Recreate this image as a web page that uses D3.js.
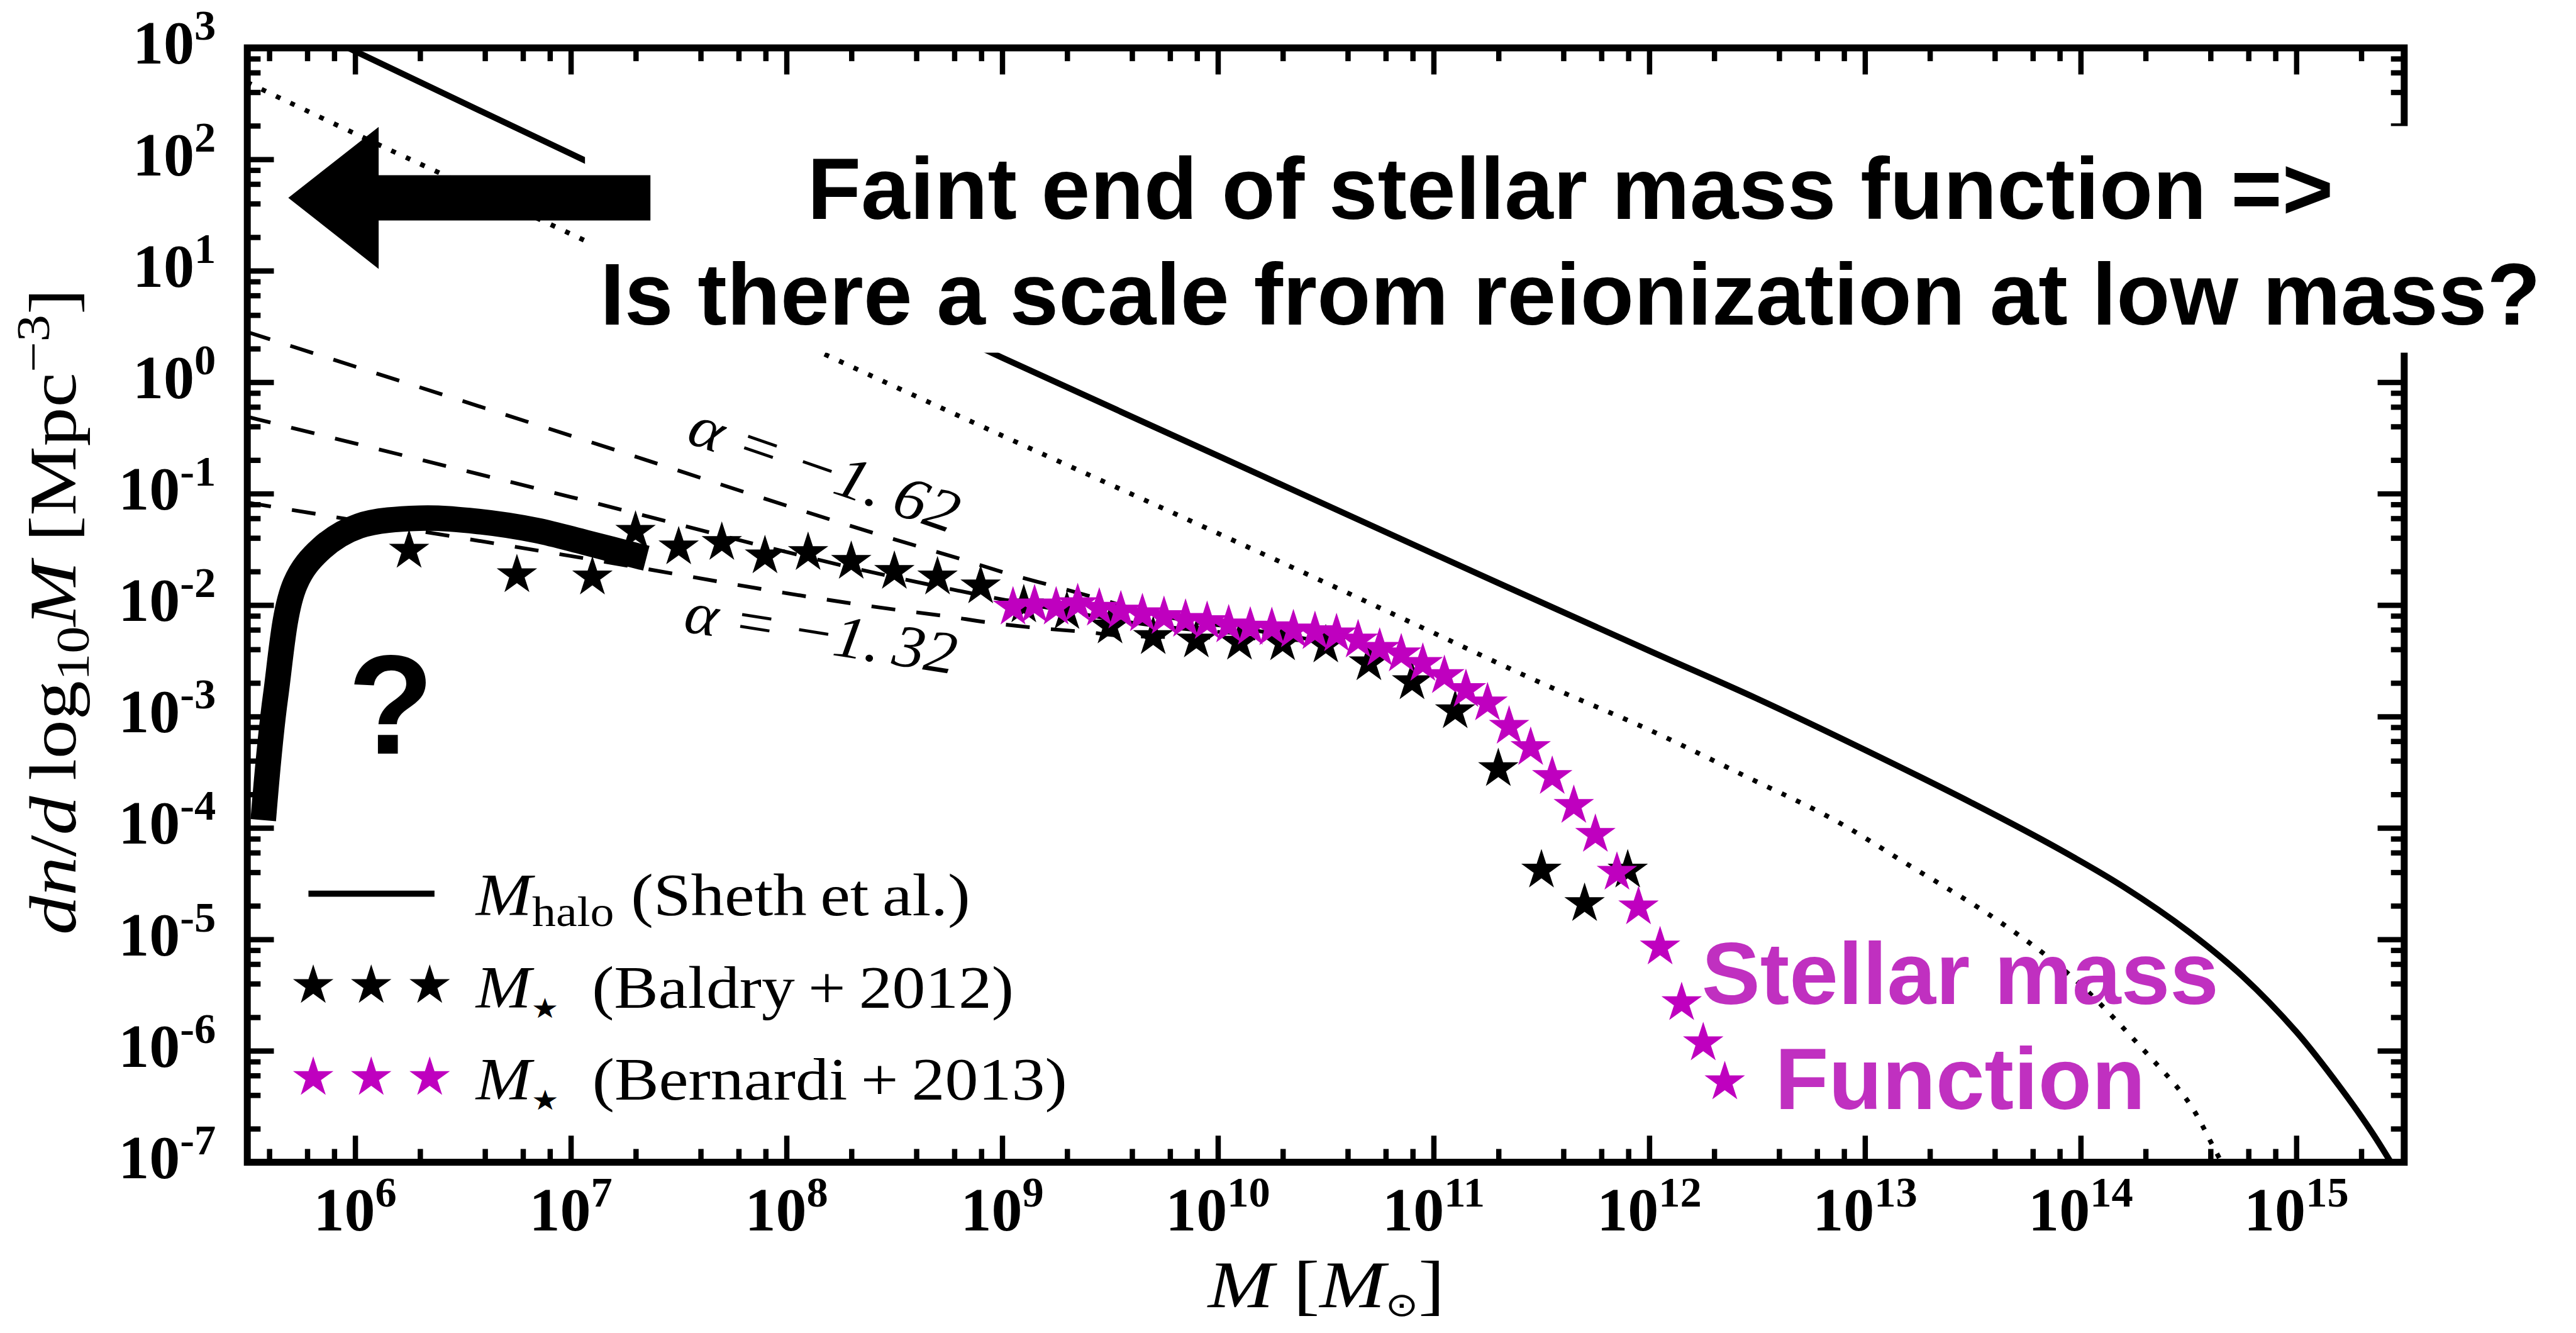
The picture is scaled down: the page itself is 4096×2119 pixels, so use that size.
<!DOCTYPE html>
<html>
<head>
<meta charset="utf-8">
<title>Halo and stellar mass functions</title>
<script src="https://cdn.jsdelivr.net/npm/d3@7/dist/d3.min.js"></script>
<style>
  html, body { margin: 0; padding: 0; background: #fff; overflow: hidden; }
  svg { display: block; }
</style>
</head>
<body>
<svg id="chart"></svg>
<script>
// Values are log10: mass in solar masses, number density dn/dlog10M in Mpc^-3.

// Halo mass function (Sheth et al.), solid curve
const haloLogM = [5.5, 6.0, 7.0, 8.0, 9.0, 10.0, 11.0, 12.0, 12.5, 13.0, 13.5, 13.9, 14.2, 14.5, 14.75, 15.0, 15.2, 15.35, 15.5];
const haloLogN = [3.45, 2.97, 2.05, 1.13, 0.22, -0.66, -1.54, -2.41, -2.84, -3.30, -3.78, -4.19, -4.53, -4.93, -5.33, -5.83, -6.32, -6.73, -7.20];

// Dotted companion curve
const dottedLogM = [5.5, 6.0, 7.0, 8.0, 9.0, 9.8, 10.5, 11.0, 11.5, 12.0, 12.45, 12.85, 13.2, 13.6, 13.95, 14.3, 14.5, 14.62, 14.68];
const dottedLogN = [2.69, 2.23, 1.33, 0.41, -0.48, -1.18, -1.80, -2.25, -2.70, -3.12, -3.54, -3.92, -4.33, -4.81, -5.32, -6.01, -6.46, -6.88, -7.10];

// Schechter-type fits with different faint-end slopes (dashed)
const fitSteepLogM = [5.5, 7.0, 8.5, 8.83, 9.04, 9.25, 9.46, 9.66, 9.87, 10.09, 10.29, 10.5];   // alpha = -1.62
const fitSteepLogN = [0.45, -0.48, -1.41, -1.60, -1.726, -1.836, -1.95, -2.06, -2.146, -2.203, -2.265, -2.33];
const fitMidLogM = [5.5, 7.0, 8.5, 9.12, 9.33, 9.53, 9.75, 9.97, 10.18, 10.5];
const fitMidLogN = [-0.31, -1.03, -1.75, -1.993, -2.065, -2.136, -2.194, -2.236, -2.266, -2.33];
const fitShallowLogM = [5.5, 7.0, 8.5, 8.74, 8.95, 9.17, 9.39, 9.55, 9.86, 10.2, 10.5];    // alpha = -1.32
const fitShallowLogN = [-1.08, -1.56, -2.04, -2.10, -2.16, -2.207, -2.242, -2.275, -2.289, -2.30, -2.33];

// Stellar mass function, Baldry et al. 2012 (black stars)
const baldryLogM = [6.25, 6.75, 7.1, 7.3, 7.5, 7.7, 7.9, 8.1, 8.3, 8.5, 8.7, 8.9, 9.1, 9.3, 9.5, 9.7, 9.9, 10.1, 10.3, 10.5, 10.7, 10.9, 11.1, 11.3, 11.5, 11.7, 11.9];
const baldryLogPhi = [-1.51, -1.73, -1.75, -1.34, -1.48, -1.44, -1.56, -1.53, -1.61, -1.70, -1.75, -1.83, -2.00, -2.06, -2.19, -2.285, -2.315, -2.335, -2.34, -2.36, -2.52, -2.69, -2.95, -3.47, -4.38, -4.68, -4.38];

// Stellar mass function, Bernardi et al. 2013 (magenta stars)
const bernardiLogM = [9.05, 9.15, 9.25, 9.35, 9.45, 9.55, 9.65, 9.75, 9.85, 9.95, 10.05, 10.15, 10.25, 10.35, 10.45, 10.55, 10.65, 10.75, 10.85, 10.95, 11.05, 11.15, 11.25, 11.35, 11.45, 11.55, 11.65, 11.75, 11.85, 11.95, 12.05, 12.15, 12.25, 12.35];
const bernardiLogPhi = [-2.02, -2.00, -2.02, -1.99, -2.03, -2.055, -2.08, -2.105, -2.13, -2.15, -2.18, -2.20, -2.205, -2.225, -2.24, -2.26, -2.315, -2.39, -2.44, -2.525, -2.635, -2.76, -2.88, -3.09, -3.28, -3.54, -3.80, -4.06, -4.40, -4.71, -5.07, -5.57, -5.93, -6.28];

// Possible low-mass turnover (thick curve)
const turnoverLogM = [5.574, 5.631, 5.722, 5.845, 6.018, 6.30, 6.57, 6.84, 7.07, 7.35];
const turnoverLogN = [-3.93, -2.82, -1.81, -1.49, -1.29, -1.22, -1.25, -1.33, -1.44, -1.58];

// Axis ticks
const xTickExponents = [6, 7, 8, 9, 10, 11, 12, 13, 14, 15];
const yTickExponents = [3, 2, 1, 0, -1, -2, -3, -4, -5, -6, -7];
const minorMultipliers = [2, 4, 6, 8];

// Legend entries
const legendLabels = ["Sheth\u2009et\u2009al.", "Baldry\u2009+\u20092012", "Bernardi\u2009+\u20092013"];

// ---------------------------------------------------------------------------
const W = 4844, H = 2506;
const box = { left: 465, right: 4521, top: 90, bottom: 2185 };
const MAGENTA = "#bf00bf";
const SERIF = "'Liberation Serif', 'Times New Roman', serif";
const SANS = "'Liberation Sans', Arial, Helvetica, sans-serif";

const svg = d3.select("#chart")
  .attr("width", 4096).attr("height", 2119)
  .attr("viewBox", `0 0 ${W} ${H}`);
svg.append("rect").attr("width", W).attr("height", H).attr("fill", "#fff");

const x = d3.scaleLog().domain([Math.pow(10, 5.5), Math.pow(10, 15.5)]).range([box.left, box.right]);
const y = d3.scaleLog().domain([1e-7, 1e3]).range([box.bottom, box.top]);
const px = lm => x(Math.pow(10, lm));
const py = ln => y(Math.pow(10, ln));
const zip = (a, b) => a.map((v, i) => [v, b[i]]);

svg.append("defs").append("clipPath").attr("id", "plot-area")
  .append("rect")
  .attr("x", box.left).attr("y", box.top)
  .attr("width", box.right - box.left).attr("height", box.bottom - box.top);

const plot = svg.append("g").attr("clip-path", "url(#plot-area)");

const smooth = d3.line().x(d => px(d[0])).y(d => py(d[1])).curve(d3.curveMonotoneX);
const rounded = d3.line().x(d => px(d[0])).y(d => py(d[1])).curve(d3.curveCatmullRom.alpha(0.5));

// dotted curve
plot.append("path").attr("d", rounded(zip(dottedLogM, dottedLogN)))
  .attr("fill", "none").attr("stroke", "#000").attr("stroke-width", 9)
  .attr("stroke-dasharray", "9,21");

// halo mass function
plot.append("path").attr("d", rounded(zip(haloLogM, haloLogN)))
  .attr("fill", "none").attr("stroke", "#000").attr("stroke-width", 11.5);

// dashed fits
[[fitSteepLogM, fitSteepLogN], [fitMidLogM, fitMidLogN], [fitShallowLogM, fitShallowLogN]].forEach(([m, n]) => {
  plot.append("path").attr("d", smooth(zip(m, n)))
    .attr("fill", "none").attr("stroke", "#000").attr("stroke-width", 7)
    .attr("stroke-dasharray", "45,40");
});

// thick turnover curve
plot.append("path").attr("d", rounded(zip(turnoverLogM, turnoverLogN)))
  .attr("fill", "none").attr("stroke", "#000").attr("stroke-width", 48)
  .attr("stroke-linecap", "butt").attr("stroke-linejoin", "round");

// five-pointed star marker
function starPath(R) {
  const pts = [];
  for (let i = 0; i < 10; i++) {
    const r = i % 2 ? R * 0.381966 : R;
    const a = -Math.PI / 2 + i * Math.PI / 5;
    pts.push([r * Math.cos(a), r * Math.sin(a)]);
  }
  return "M" + pts.map(p => p[0].toFixed(2) + "," + p[1].toFixed(2)).join("L") + "Z";
}
const STAR = starPath(40);

plot.append("g").selectAll("path").data(zip(baldryLogM, baldryLogPhi)).join("path")
  .attr("d", STAR).attr("fill", "#000")
  .attr("transform", d => `translate(${px(d[0])},${py(d[1])})`);

plot.append("g").selectAll("path").data(zip(bernardiLogM, bernardiLogPhi)).join("path")
  .attr("d", STAR).attr("fill", MAGENTA)
  .attr("transform", d => `translate(${px(d[0])},${py(d[1])})`);

// ---- ticks on all four sides, pointing inwards ----
const xMajor = xTickExponents.map(e => Math.pow(10, e));
const xMinor = [];
for (let e = 5; e <= 15; e++) minorMultipliers.forEach(m => {
  const v = m * Math.pow(10, e);
  if (v > x.domain()[0] && v < x.domain()[1]) xMinor.push(v);
});
const yMajor = yTickExponents.map(e => Math.pow(10, e));
const yMinor = [];
for (let e = -7; e <= 2; e++) minorMultipliers.forEach(m => yMinor.push(m * Math.pow(10, e)));

function ticks(axisFn, scale, values, size, transform) {
  svg.append("g").attr("transform", transform)
    .call(axisFn(scale).tickValues(values).tickSize(-size).tickFormat(""))
    .call(g => g.select(".domain").remove())
    .call(g => g.selectAll("line").attr("stroke", "#000").attr("stroke-width", 10));
}
ticks(d3.axisBottom, x, xMajor, 50, `translate(0,${box.bottom})`);
ticks(d3.axisBottom, x, xMinor, 25, `translate(0,${box.bottom})`);
ticks(d3.axisTop, x, xMajor, 50, `translate(0,${box.top})`);
ticks(d3.axisTop, x, xMinor, 25, `translate(0,${box.top})`);
ticks(d3.axisLeft, y, yMajor, 50, `translate(${box.left},0)`);
ticks(d3.axisLeft, y, yMinor, 25, `translate(${box.left},0)`);
ticks(d3.axisRight, y, yMajor, 50, `translate(${box.right},0)`);
ticks(d3.axisRight, y, yMinor, 25, `translate(${box.right},0)`);

// frame
svg.append("rect")
  .attr("x", box.left).attr("y", box.top)
  .attr("width", box.right - box.left).attr("height", box.bottom - box.top)
  .attr("fill", "none").attr("stroke", "#000").attr("stroke-width", 13);

// ---- tick labels ----
svg.append("g").selectAll("text").data(xTickExponents).join("text")
  .attr("x", e => x(Math.pow(10, e))).attr("y", 2313)
  .attr("text-anchor", "middle")
  .attr("font-family", SERIF).attr("font-weight", "bold").attr("font-size", 116)
  .each(function (e) {
    const t = d3.select(this);
    t.append("tspan").text("10");
    t.append("tspan").attr("dy", -45).attr("font-size", 81).text(String(e));
  });

svg.append("g").selectAll("text").data(yTickExponents).join("text")
  .attr("x", 406).attr("y", e => y(Math.pow(10, e)) + 30)
  .attr("text-anchor", "end")
  .attr("font-family", SERIF).attr("font-weight", "bold").attr("font-size", 116)
  .each(function (e) {
    const t = d3.select(this);
    t.append("tspan").text("10");
    t.append("tspan").attr("dy", -45).attr("font-size", 81).text(e < 0 ? "-" + (-e) : String(e));
  });

// stretch a text horizontally about a pivot so it spans the given width
function fitWidth(sel, target, pivot) {
  const w = sel.node().getBBox().width;
  const s = target / w;
  sel.attr("transform", `translate(${pivot},0) scale(${s},1) translate(${-pivot},0)`);
}

// ---- axis titles ----
const xt = svg.append("text").attr("x", 2494).attr("y", 2458)
  .attr("text-anchor", "middle").attr("font-family", SERIF).attr("font-size", 124);
xt.append("tspan").attr("font-style", "italic").text("M");
xt.append("tspan").text("\u00A0[");
xt.append("tspan").attr("font-style", "italic").text("M");
xt.append("tspan").attr("font-family", "'DejaVu Sans', sans-serif").attr("font-size", 62).attr("dy", 16).text("\u2299");
xt.append("tspan").attr("dy", -16).text("]");
fitWidth(xt, 448, 2494);

const yg = svg.append("g").attr("transform", "translate(142,1150) rotate(-90)");
const yt = yg.append("text").attr("x", 0).attr("y", 0)
  .attr("text-anchor", "middle").attr("font-family", SERIF).attr("font-size", 126);
yt.append("tspan").attr("font-style", "italic").text("dn");
yt.append("tspan").text("/");
yt.append("tspan").attr("font-style", "italic").text("d");
yt.append("tspan").text("\u2009log");
yt.append("tspan").attr("font-size", 88).attr("dy", 25).text("10");
yt.append("tspan").attr("font-style", "italic").attr("dy", -25).text("M");
yt.append("tspan").text("\u00A0[Mpc");
yt.append("tspan").attr("font-size", 88).attr("dy", -50).text("\u22123");
yt.append("tspan").attr("dy", 50).text("]");
fitWidth(yt, 1215, 0);

// ---- slope labels ----
function slopeLabel(lm, ln, angle, value, width) {
  const g = svg.append("g").attr("transform", `translate(${px(lm)},${py(ln)}) rotate(${angle})`);
  const t = g.append("text").attr("x", 0).attr("y", 0)
    .attr("font-family", SERIF).attr("font-size", 113).attr("font-style", "italic");
  t.append("tspan").text("\u03B1");
  t.append("tspan").text("\u00A0=\u00A0\u2212" + value);
  fitWidth(t, width, 0);
}
slopeLabel(7.529, -0.537, 19, "1.\u200962", 529);
slopeLabel(7.517, -2.236, 9, "1.\u200932", 516);

// ---- question mark ----
svg.append("text").attr("x", 735).attr("y", 1417).attr("text-anchor", "middle")
  .attr("font-family", SANS).attr("font-weight", "bold").attr("font-size", 265)
  .attr("fill", "#000").text("?");

// ---- headline with white backing ----
svg.append("rect").attr("x", 1100).attr("y", 237).attr("width", W - 1100).attr("height", 426).attr("fill", "#fff");
const head = svg.append("g").attr("font-family", SANS).attr("font-weight", "bold")
  .attr("font-size", 165).attr("text-anchor", "middle").attr("fill", "#000");
head.append("text").attr("x", 2953).attr("y", 412).text("Faint end of stellar mass function =>");
head.append("text").attr("x", 2953).attr("y", 610).text("Is there a scale from reionization at low mass?");

// ---- arrow pointing to low masses ----
const arrowTip = [5.69, 1.654], arrowHeadBase = 6.109, arrowTail = 7.369;
const headHalf = 0.637, shaftHalf = 0.203;
const arrowPts = [
  [arrowTail, arrowTip[1] + shaftHalf],
  [arrowHeadBase, arrowTip[1] + shaftHalf],
  [arrowHeadBase, arrowTip[1] + headHalf],
  arrowTip,
  [arrowHeadBase, arrowTip[1] - headHalf],
  [arrowHeadBase, arrowTip[1] - shaftHalf],
  [arrowTail, arrowTip[1] - shaftHalf]
].map(d => [px(d[0]), py(d[1])]);
svg.append("path").attr("d", "M" + arrowPts.map(p => p.join(",")).join("L") + "Z").attr("fill", "#000");

// ---- stellar mass function caption ----
const cap = svg.append("g").attr("font-family", SANS).attr("font-weight", "bold")
  .attr("font-size", 165).attr("text-anchor", "middle").attr("fill", "#c030c0");
cap.append("text").attr("x", 3686).attr("y", 1888).text("Stellar mass");
cap.append("text").attr("x", 3686).attr("y", 2085).text("Function");

// ---- legend ----
const legendRows = [1680, 1853, 2026];
const legendStarsX = [589, 698, 808];
const leg = svg.append("g");
leg.append("line").attr("x1", 580).attr("x2", 817).attr("y1", legendRows[0]).attr("y2", legendRows[0])
  .attr("stroke", "#000").attr("stroke-width", 11.5);
[["#000", legendRows[1]], [MAGENTA, legendRows[2]]].forEach(([c, ry]) => {
  leg.append("g").selectAll("path").data(legendStarsX).join("path")
    .attr("d", STAR).attr("fill", c).attr("transform", sx => `translate(${sx},${ry})`);
});
const targetWidths = [932, 1014, 1114];
legendLabels.forEach((lab, i) => {
  const t = leg.append("text").attr("x", 895).attr("y", legendRows[i] + 41)
    .attr("font-family", SERIF).attr("font-size", 113);
  t.append("tspan").attr("font-style", "italic").text("M");
  if (i === 0) {
    t.append("tspan").attr("font-size", 80).attr("dy", 20).text("halo");
    t.append("tspan").attr("dy", -20).text("\u00A0(" + lab + ")");
  } else {
    t.append("tspan").attr("font-family", "'DejaVu Sans', sans-serif").attr("font-size", 52).attr("dy", 19).text("\u2605");
    t.append("tspan").attr("dy", -19).text("\u00A0\u00A0(" + lab + ")");
  }
  fitWidth(t, targetWidths[i], 895);
});
</script>
</body>
</html>
